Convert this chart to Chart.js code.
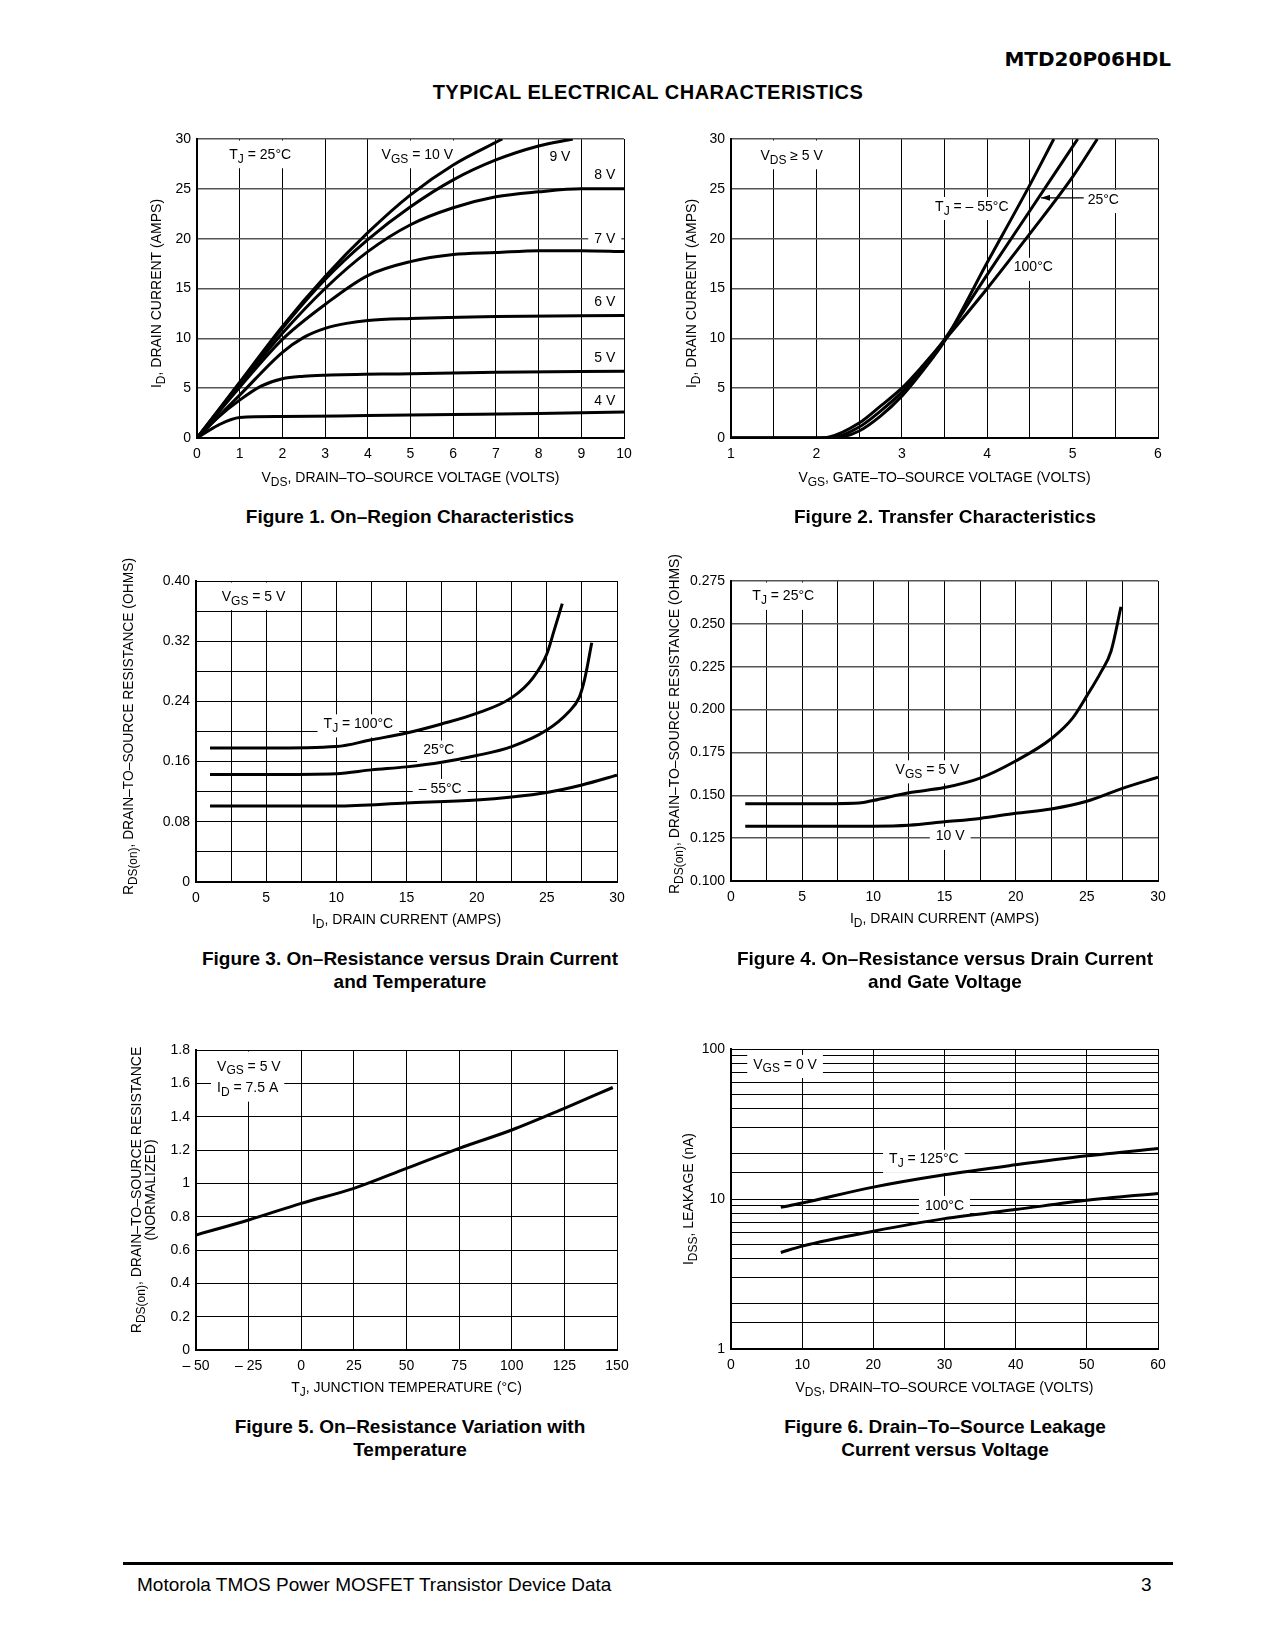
<!DOCTYPE html>
<html>
<head>
<meta charset="utf-8">
<script src="https://cdn.jsdelivr.net/npm/chart.js@4.4.1/dist/chart.umd.min.js"></script>
<style>
  body { margin: 0; background: #fff; }
  #page { position: relative; width: 1275px; height: 1650px; background: #fff; color: #000;
          font-family: "Liberation Sans", Arial, sans-serif; }
  .t { position: absolute; white-space: nowrap; }
  .cap { position: absolute; white-space: nowrap; font-weight: bold; font-size: 19px; line-height: 23px;
         text-align: center; transform: translateX(-50%); }
  canvas { position: absolute; }
</style>
</head>
<body>
<div id="page">
  <div class="t" style="right:104px; top:49px; font-family:'DejaVu Sans'; font-weight:bold; font-size:20px; line-height:20px;">MTD20P06HDL</div>
  <div class="t" style="left:648px; top:81px; transform:translateX(-50%); font-weight:bold; font-size:20px; letter-spacing:0.5px; line-height:23px;">TYPICAL ELECTRICAL CHARACTERISTICS</div>

  <canvas id="fig1"></canvas>
  <canvas id="fig2"></canvas>
  <canvas id="fig3"></canvas>
  <canvas id="fig4"></canvas>
  <canvas id="fig5"></canvas>
  <canvas id="fig6"></canvas>

  <div class="cap" style="left:410px; top:505px;">Figure 1. On–Region Characteristics</div>
  <div class="cap" style="left:945px; top:505px;">Figure 2. Transfer Characteristics</div>
  <div class="cap" style="left:410px; top:947px;">Figure 3. On–Resistance versus Drain Current<br>and Temperature</div>
  <div class="cap" style="left:945px; top:947px;">Figure 4. On–Resistance versus Drain Current<br>and Gate Voltage</div>
  <div class="cap" style="left:410px; top:1415px;">Figure 5. On–Resistance Variation with<br>Temperature</div>
  <div class="cap" style="left:945px; top:1415px;">Figure 6. Drain–To–Source Leakage<br>Current versus Voltage</div>

  <div style="position:absolute; left:123px; top:1562px; width:1050px; height:3px; background:#000;"></div>
  <div class="t" style="left:137px; top:1574px; font-size:19px; line-height:21px;">Motorola TMOS Power MOSFET Transistor Device Data</div>
  <div class="t" style="left:1141px; top:1574px; font-size:19px; line-height:21px;">3</div>
</div>

<script>
const FONT = '"Liberation Sans Narrow", "Liberation Sans", Arial, sans-serif';

// ---- Figure 1: I_D vs V_DS, T_J = 25°C (one curve per V_GS)
const fig1Vgs10 = [[0,0],[1,5.6],[2,11.2],[3,16.2],[4,20.6],[5,24.4],[6,27.4],[7.15,30]];
const fig1Vgs9  = [[0,0],[1,5.5],[2,11.0],[3,15.9],[4,19.9],[5,23.2],[6,25.9],[7,27.9],[8,29.3],[8.8,30]];
const fig1Vgs8  = [[0,0],[1,5.3],[2,10.5],[3,15.0],[4,18.7],[5,21.4],[6,23.1],[7,24.2],[8,24.7],[9,25.0],[10,25.0]];
const fig1Vgs7  = [[0,0],[1,5.1],[2,9.9],[3,13.4],[4,16.3],[5,17.7],[6,18.4],[7,18.6],[8,18.8],[9,18.8],[10,18.7]];
const fig1Vgs6  = [[0,0],[1,4.3],[2,8.6],[2.5,10.1],[3,11.0],[3.5,11.5],[4,11.8],[5,12.0],[7,12.2],[10,12.3]];
const fig1Vgs5  = [[0,0],[0.5,2.1],[1,3.8],[1.5,5.2],[2,5.95],[2.5,6.2],[3,6.3],[5,6.45],[7,6.6],[10,6.7]];
const fig1Vgs4  = [[0,0],[0.5,1.3],[1,2.05],[2,2.15],[4,2.25],[6,2.35],[8,2.45],[10,2.6]];
const fig1XTicks = [0,1,2,3,4,5,6,7,8,9,10];
const fig1XLabels = ['0','1','2','3','4','5','6','7','8','9','10'];
const fig1YTicks = [0,5,10,15,20,25,30];
const fig1YLabels = ['0','5','10','15','20','25','30'];

// ---- Figure 2: I_D vs V_GS at three junction temperatures
const fig2Tm55 = [[1,0],[2.1,0],[2.3,0.1],[2.5,0.7],[2.75,2.2],[3,4.2],[3.25,6.8],[3.5,9.7],[4,17.6],[4.5,25.4],[4.78,30]];
const fig2T25  = [[1,0],[2.05,0],[2.2,0.05],[2.5,1.1],[2.75,2.7],[3,4.6],[3.25,7.1],[3.5,9.9],[4,16.4],[4.5,22.8],[5.06,30]];
const fig2T100 = [[1,0],[2.0,0],[2.15,0.1],[2.5,1.5],[2.75,3.2],[3,5.0],[3.25,7.3],[3.5,9.8],[4,15.0],[4.5,20.5],[5,26.2],[5.29,30]];
const fig2XTicks = [1,1.5,2,2.5,3,3.5,4,4.5,5,5.5,6];
const fig2XLabels = ['1','','2','','3','','4','','5','','6'];

// ---- Figure 3: R_DS(on) vs I_D, V_GS = 5 V
const fig3T100 = [[1,0.178],[5,0.178],[10,0.180],[12.5,0.189],[15,0.198],[17.5,0.210],[20,0.224],[22.5,0.245],[24,0.271],[25,0.303],[25.5,0.333],[26.1,0.370]];
const fig3T25  = [[1,0.143],[5,0.143],[10,0.144],[12.5,0.149],[15,0.153],[17.5,0.159],[20,0.168],[22.5,0.180],[25,0.202],[26.5,0.225],[27.3,0.245],[27.7,0.270],[28.2,0.318]];
const fig3Tm55 = [[1,0.101],[5,0.101],[10,0.101],[15,0.105],[20,0.109],[22.5,0.113],[25,0.119],[27.5,0.129],[30,0.142]];
const fig3XTicks = [0,2.5,5,7.5,10,12.5,15,17.5,20,22.5,25,27.5,30];
const fig3XLabels = ['0','','5','','10','','15','','20','','25','','30'];
const fig3YTicks = [0,0.04,0.08,0.12,0.16,0.2,0.24,0.28,0.32,0.36,0.4];
const fig3YLabels = ['0','','0.08','','0.16','','0.24','','0.32','','0.40'];

// ---- Figure 4: R_DS(on) vs I_D, T_J = 25°C
const fig4Vgs5  = [[1,0.145],[5,0.145],[9,0.1455],[10,0.147],[12.5,0.1515],[15,0.1545],[17.5,0.160],[20,0.170],[22.5,0.183],[24,0.195],[25,0.208],[26,0.222],[26.7,0.234],[27.4,0.260]];
const fig4Vgs10 = [[1,0.132],[5,0.132],[10,0.132],[12.5,0.1325],[15,0.1345],[17.5,0.1365],[20,0.1395],[22.5,0.142],[25,0.1465],[27.5,0.154],[30,0.1605]];
const fig4YTicks = [0.1,0.125,0.15,0.175,0.2,0.225,0.25,0.275];
const fig4YLabels = ['0.100','0.125','0.150','0.175','0.200','0.225','0.250','0.275'];

// ---- Figure 5: normalized R_DS(on) vs T_J
const fig5Curve = [[-50,0.69],[-25,0.78],[0,0.88],[25,0.97],[50,1.09],[75,1.21],[100,1.32],[125,1.45],[148,1.575]];
const fig5XTicks = [-50,-25,0,25,50,75,100,125,150];
const fig5XLabels = ['– 50','– 25','0','25','50','75','100','125','150'];
const fig5YTicks = [0,0.2,0.4,0.6,0.8,1,1.2,1.4,1.6,1.8];
const fig5YLabels = ['0','0.2','0.4','0.6','0.8','1','1.2','1.4','1.6','1.8'];

// ---- Figure 6: I_DSS vs V_DS (log)
const fig6T125 = [[7,8.8],[10,9.4],[20,12.0],[30,14.5],[40,16.9],[50,19.4],[60,21.7]];
const fig6T100 = [[7,4.4],[10,4.85],[20,6.1],[30,7.4],[40,8.5],[50,9.8],[60,10.9]];
const fig6XTicks = [0,10,20,30,40,50,60];
const fig6XLabels = ['0','10','20','30','40','50','60'];
const fig6YTicks = [1,1.5,2,3,4,5,6,7,8,9,10,15,20,30,40,50,60,70,80,90,100];
const fig6YLabels = ['1','','','','','','','','','','10','','','','','','','','','','100'];

// "V_{GS} = 5 V" -> [['V',false],['GS',true],[' = 5 V',false]]
function richParts(str) {
  const out = [];
  str.split(/(_\{[^}]*\})/).forEach(s => {
    if (!s) return;
    if (s.startsWith('_{')) out.push([s.slice(2, -1), true]);
    else out.push([s, false]);
  });
  return out;
}
function setFont(ctx, sub, size) {
  ctx.font = (sub ? Math.round(size * 0.85) : size) + 'px ' + FONT;
}
function partsWidth(ctx, parts, size) {
  let w = 0;
  parts.forEach(p => { setFont(ctx, p[1], size); w += ctx.measureText(p[0]).width; });
  return w;
}
function drawParts(ctx, parts, x, y, size) {
  ctx.textAlign = 'left';
  ctx.textBaseline = 'middle';
  parts.forEach(p => {
    setFont(ctx, p[1], size);
    ctx.fillText(p[0], x, y + (p[1] ? size * 0.32 : 0));
    x += ctx.measureText(p[0]).width;
  });
}

// in-plot labels (white boxes over the grid), leader arrows and axis titles
const notesPlugin = {
  id: 'notes',
  beforeDatasetsDraw(chart, args, opts) {
    const ctx = chart.ctx, xs = chart.scales.x, ys = chart.scales.y;
    const size = 14;
    ctx.save();
    (opts.labels || []).forEach(n => {
      const px = xs.getPixelForValue(n.x), py = ys.getPixelForValue(n.y);
      const parts = richParts(n.text);
      const w = partsWidth(ctx, parts, size);
      const left = n.align === 'left' ? px : px - w / 2;
      const top = n.toTop ? chart.chartArea.top + 1.5 : py - size * 0.7;
      ctx.fillStyle = '#fff';
      ctx.fillRect(left - 6, top, w + 12, py + size * 0.95 - top);
      ctx.fillStyle = '#000';
      drawParts(ctx, parts, left, py, size);
    });
    (opts.arrows || []).forEach(a => {
      const x1 = xs.getPixelForValue(a.from[0]), y1 = ys.getPixelForValue(a.from[1]);
      const x2 = xs.getPixelForValue(a.to[0]), y2 = ys.getPixelForValue(a.to[1]);
      ctx.strokeStyle = '#000';
      ctx.lineWidth = 1.2;
      ctx.beginPath(); ctx.moveTo(x1, y1); ctx.lineTo(x2, y2); ctx.stroke();
      ctx.fillStyle = '#000';
      ctx.beginPath(); ctx.moveTo(x2, y2); ctx.lineTo(x2 + 9, y2 - 3); ctx.lineTo(x2 + 9, y2 + 3); ctx.closePath(); ctx.fill();
    });
    ctx.restore();
  },
  afterDraw(chart, args, opts) {
    const ctx = chart.ctx, a = chart.chartArea;
    const size = 14;
    ctx.save();
    ctx.fillStyle = '#000';
    if (opts.xTitle) {
      const parts = richParts(opts.xTitle);
      const w = partsWidth(ctx, parts, size);
      drawParts(ctx, parts, (a.left + a.right) / 2 - w / 2, a.bottom + opts.xGap, size);
    }
    (opts.yTitles || []).forEach((t, i) => {
      const parts = richParts(t);
      const w = partsWidth(ctx, parts, size);
      const k = opts.yMaxLen && w > opts.yMaxLen ? opts.yMaxLen / w : 1;
      ctx.save();
      ctx.translate(a.left - opts.yGaps[i], (a.top + a.bottom) / 2 + (opts.yShift || 0));
      ctx.rotate(-Math.PI / 2);
      ctx.scale(k, 1);
      drawParts(ctx, parts, -w / 2, 0, size);
      ctx.restore();
    });
    ctx.restore();
  }
};
Chart.register(notesPlugin);

function axis(a, horizontal, size) {
  return {
    type: a.type || 'linear',
    min: a.ticks[0],
    max: a.ticks[a.ticks.length - 1],
    grid: { color: a.gridColor || '#000', lineWidth: a.gridWidth || 1, drawTicks: false },
    border: { display: true, color: '#000', width: 2 },
    ticks: {
      autoSkip: false, maxRotation: 0, minRotation: 0,
      padding: horizontal ? 8 : 6,
      color: '#000',
      font: { family: FONT, size: 14 },
      callback: (v, i) => a.labels[i]
    },
    afterBuildTicks: s => { s.ticks = a.ticks.map(v => ({ value: v })); },
    afterFit: s => {
      if (horizontal) s.height = size; else s.width = size;
      s.paddingLeft = 0; s.paddingRight = 0; s.paddingTop = 0; s.paddingBottom = 0;
    }
  };
}

function makeChart(id, box, cfg) {
  const PL = 100, PT = 34, PR = 26, PB = 62, YW = 60, XH = 30;
  const cv = document.getElementById(id);
  cv.width = box.r - box.l + PL + PR;
  cv.height = box.b - box.t + PT + PB;
  cv.style.left = (box.l - PL) + 'px';
  cv.style.top = (box.t - PT) + 'px';
  return new Chart(cv, {
    type: 'line',
    data: {
      datasets: cfg.series.map(s => ({
        data: s.map(p => ({ x: p[0], y: p[1] })),
        borderColor: '#000',
        borderWidth: 3,
        pointRadius: 0,
        fill: false,
        cubicInterpolationMode: 'monotone'
      }))
    },
    options: {
      responsive: false,
      animation: false,
      events: [],
      layout: { autoPadding: false, padding: { left: PL - YW, top: PT, right: PR, bottom: PB - XH } },
      plugins: { legend: { display: false }, tooltip: { enabled: false }, notes: cfg.notes },
      scales: { x: axis(cfg.x, true, XH), y: axis(cfg.y, false, YW) }
    }
  });
}

makeChart('fig1', { l: 197, t: 139, r: 624, b: 438 }, {
  series: [fig1Vgs10, fig1Vgs9, fig1Vgs8, fig1Vgs7, fig1Vgs6, fig1Vgs5, fig1Vgs4],
  x: { ticks: fig1XTicks, labels: fig1XLabels },
  y: { ticks: fig1YTicks, labels: fig1YLabels, gridColor: '#555', gridWidth: 1.5 },
  notes: {
    labels: [
      { x: 1.48, y: 28.4, text: 'T_{J} = 25°C', toTop: true },
      { x: 5.16, y: 28.4, text: 'V_{GS} = 10 V', toTop: true },
      { x: 8.5, y: 28.2, text: '9 V' },
      { x: 9.55, y: 26.4, text: '8 V' },
      { x: 9.55, y: 20.0, text: '7 V' },
      { x: 9.55, y: 13.6, text: '6 V' },
      { x: 9.55, y: 8.0, text: '5 V' },
      { x: 9.55, y: 3.7, text: '4 V' }
    ],
    xTitle: 'V_{DS}, DRAIN–TO–SOURCE VOLTAGE (VOLTS)', xGap: 40,
    yTitles: ['I_{D}, DRAIN CURRENT (AMPS)'], yGaps: [40], yShift: 5
  }
});

makeChart('fig2', { l: 731, t: 139, r: 1158, b: 438 }, {
  series: [fig2Tm55, fig2T25, fig2T100],
  x: { ticks: fig2XTicks, labels: fig2XLabels },
  y: { ticks: fig1YTicks, labels: fig1YLabels, gridColor: '#555', gridWidth: 1.5 },
  notes: {
    labels: [
      { x: 1.71, y: 28.3, text: 'V_{DS} ≥ 5 V', toTop: true },
      { x: 3.82, y: 23.2, text: 'T_{J} = – 55°C' },
      { x: 5.36, y: 23.9, text: '25°C' },
      { x: 4.54, y: 17.1, text: '100°C' }
    ],
    arrows: [{ from: [5.13, 24.1], to: [4.63, 24.1] }],
    xTitle: 'V_{GS}, GATE–TO–SOURCE VOLTAGE (VOLTS)', xGap: 40,
    yTitles: ['I_{D}, DRAIN CURRENT (AMPS)'], yGaps: [39], yShift: 5
  }
});

makeChart('fig3', { l: 196, t: 581, r: 617, b: 882 }, {
  series: [fig3T100, fig3T25, fig3Tm55],
  x: { ticks: fig3XTicks, labels: fig3XLabels },
  y: { ticks: fig3YTicks, labels: fig3YLabels },
  notes: {
    labels: [
      { x: 4.1, y: 0.379, text: 'V_{GS} = 5 V', toTop: true },
      { x: 11.57, y: 0.2098, text: 'T_{J} = 100°C' },
      { x: 17.3, y: 0.175, text: '25°C' },
      { x: 17.4, y: 0.124, text: '– 55°C' }
    ],
    xTitle: 'I_{D}, DRAIN CURRENT (AMPS)', xGap: 38,
    yTitles: ['R_{DS(on)}, DRAIN–TO–SOURCE RESISTANCE (OHMS)'], yGaps: [67], yShift: -5, yMaxLen: 337
  }
});

makeChart('fig4', { l: 731, t: 581, r: 1158, b: 881 }, {
  series: [fig4Vgs5, fig4Vgs10],
  x: { ticks: fig3XTicks, labels: fig3XLabels },
  y: { ticks: fig4YTicks, labels: fig4YLabels, gridColor: '#555', gridWidth: 1.5 },
  notes: {
    labels: [
      { x: 3.67, y: 0.2659, text: 'T_{J} = 25°C', toTop: true },
      { x: 13.8, y: 0.1647, text: 'V_{GS} = 5 V' },
      { x: 15.4, y: 0.1259, text: '10 V' }
    ],
    xTitle: 'I_{D}, DRAIN CURRENT (AMPS)', xGap: 38,
    yTitles: ['R_{DS(on)}, DRAIN–TO–SOURCE RESISTANCE (OHMS)'], yGaps: [56], yShift: -7, yMaxLen: 340
  }
});

makeChart('fig5', { l: 196, t: 1050, r: 617, b: 1350 }, {
  series: [fig5Curve],
  x: { ticks: fig5XTicks, labels: fig5XLabels },
  y: { ticks: fig5YTicks, labels: fig5YLabels },
  notes: {
    labels: [
      { x: -40, y: 1.70, text: 'V_{GS} = 5 V', align: 'left', toTop: true },
      { x: -40, y: 1.57, text: 'I_{D} = 7.5 A', align: 'left' }
    ],
    xTitle: 'T_{J}, JUNCTION TEMPERATURE (°C)', xGap: 38,
    yTitles: ['R_{DS(on)}, DRAIN–TO–SOURCE RESISTANCE', '(NORMALIZED)'], yGaps: [59, 45], yShift: -10
  }
});

makeChart('fig6', { l: 731, t: 1049, r: 1158, b: 1349 }, {
  series: [fig6T125, fig6T100],
  x: { ticks: fig6XTicks, labels: fig6XLabels },
  y: { type: 'logarithmic', ticks: fig6YTicks, labels: fig6YLabels },
  notes: {
    labels: [
      { x: 7.6, y: 78.6, text: 'V_{GS} = 0 V' },
      { x: 27.1, y: 18.3, text: 'T_{J} = 125°C' },
      { x: 30.0, y: 9.03, text: '100°C' }
    ],
    xTitle: 'V_{DS}, DRAIN–TO–SOURCE VOLTAGE (VOLTS)', xGap: 39,
    yTitles: ['I_{DSS}, LEAKAGE (nA)'], yGaps: [42], yShift: 0
  }
});
</script>
</body>
</html>
